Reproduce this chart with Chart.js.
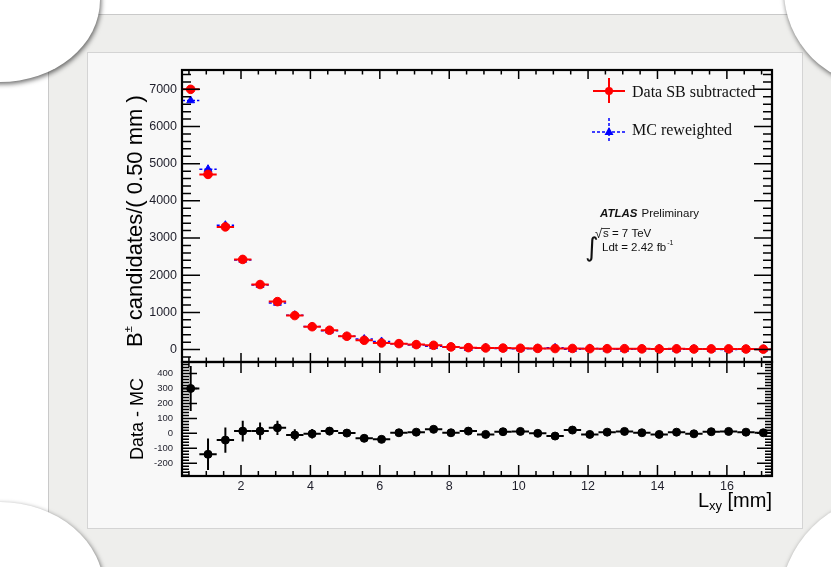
<!DOCTYPE html>
<html>
<head>
<meta charset="utf-8">
<title>B+ candidates vs Lxy</title>
<script src="https://cdn.jsdelivr.net/npm/chart.js@4.4.0/dist/chart.umd.min.js"></script>
<style>
  html, body { margin: 0; padding: 0; background: #fff; overflow: hidden; }
  #page { position: relative; width: 831px; height: 567px; overflow: hidden; background: #fff; }
  .mat { position: absolute; left: 48px; top: 14px; width: 820px; height: 600px; background: #eeeeec; border: 1px solid #c9c9c9; }
  .panel { position: absolute; left: 87px; top: 52px; width: 714px; height: 475px; background: #f8f8f8; border: 1px solid #d4d4d4; }
  .corner { position: absolute; background: #fff; border-radius: 50%; box-shadow: 1px 2px 5px rgba(0, 0, 0, 0.6); }
  canvas { position: absolute; left: 0; top: 0; }
</style>
</head>
<body>
<div id="page">
  <div class="mat"></div>
  <div class="panel"></div>
  <div class="corner" style="left:-100px; top:-82px; width:200px; height:164px;"></div>
  <div class="corner" style="left:-104px; top:502px; width:208px; height:176px;"></div>
  <div class="corner" style="left:784px; top:-106px; width:192px; height:192px;"></div>
  <div class="corner" style="left:780px; top:495px; width:220px; height:220px;"></div>
  <canvas id="topChart" width="831" height="567"></canvas>
  <canvas id="ratioChart" width="831" height="567"></canvas>
</div>
<script>
// Bin centres of L_xy [mm], bins of 0.50 mm
const binCenters = [0.55, 1.05, 1.55, 2.05, 2.55, 3.05, 3.55, 4.05, 4.55, 5.05, 5.55, 6.05,
  6.55, 7.05, 7.55, 8.05, 8.55, 9.05, 9.55, 10.05, 10.55, 11.05, 11.55, 12.05, 12.55, 13.05,
  13.55, 14.05, 14.55, 15.05, 15.55, 16.05, 16.55, 17.05];
const binHalfWidth = 0.25;

// Data SB subtracted
const dataVals = [7000, 4712, 3300, 2425, 1750, 1290, 915, 615, 520, 358, 250, 178, 160, 134,
  115, 72, 52, 44, 40, 36, 32, 28, 30, 24, 24, 24, 20, 17, 20, 15, 18, 18, 15, 12];
const dataErr = [85, 70, 58, 50, 42, 36, 30, 25, 23, 19, 16, 14, 13, 12, 11, 9, 8, 7, 7, 6,
  6, 6, 6, 5, 5, 5, 5, 4, 4, 4, 4, 4, 4, 4];

// MC reweighted
const mcVals = [6700, 4852, 3345, 2410, 1735, 1253, 926, 618, 505, 356, 283, 218, 156, 126,
  88, 68, 37, 51, 29, 23, 32, 46, 8, 31, 16, 11, 16, 24, 12, 18, 7, 5, 7, 8];
const mcErr = [60, 50, 42, 36, 30, 26, 22, 18, 16, 14, 12, 10, 9, 8, 7, 6, 5, 5, 4, 4,
  4, 4, 4, 4, 3, 3, 3, 3, 3, 3, 3, 3, 3, 3];

// Data - MC
const diffVals = [300, -140, -45, 15, 15, 37, -11, -3, 15, 2, -33, -40, 4, 8, 27, 4, 15, -7,
  11, 13, 0, -18, 22, -7, 8, 13, 4, -7, 8, -3, 11, 13, 8, 4];
const diffErr = [150, 105, 85, 70, 58, 48, 38, 32, 27, 22, 19, 16, 15, 14, 13, 12, 11, 11, 10,
  10, 10, 9, 9, 9, 9, 9, 8, 8, 8, 8, 8, 8, 8, 8];

// Axes
const xMin = 0.3, xMax = 17.3;
const xLabels = [2, 4, 6, 8, 10, 12, 14, 16];
const topYMin = -334, topYMax = 7520;
const topYLabels = [0, 1000, 2000, 3000, 4000, 5000, 6000, 7000];
const ratioYMin = -285, ratioYMax = 477;
const ratioYLabels = [-200, -100, 0, 100, 200, 300, 400];

const SANS = "'Liberation Sans', Arial, Helvetica, sans-serif";
const SERIF = "'Liberation Serif', 'Times New Roman', serif";
const labelColor = '#1f1f2b';

function points(ys) {
  return binCenters.map((x, i) => ({ x: x, y: ys[i] }));
}

function stepValues(min, max, step) {
  const out = [];
  for (let k = Math.ceil(min / step); k * step <= max; k++) out.push(k * step);
  return out;
}

function drawErrors(chart, ys, errs, color, width, dash) {
  const { ctx, chartArea: a, scales: { x, y } } = chart;
  ctx.save();
  ctx.beginPath();
  ctx.rect(a.left, a.top, a.width, a.height);
  ctx.clip();
  ctx.strokeStyle = color;
  ctx.lineWidth = width;
  ctx.setLineDash(dash);
  binCenters.forEach((c, i) => {
    const px = x.getPixelForValue(c);
    const py = y.getPixelForValue(ys[i]);
    ctx.beginPath();
    ctx.moveTo(x.getPixelForValue(c - binHalfWidth), py);
    ctx.lineTo(x.getPixelForValue(c + binHalfWidth), py);
    ctx.moveTo(px, y.getPixelForValue(ys[i] - errs[i]));
    ctx.lineTo(px, y.getPixelForValue(ys[i] + errs[i]));
    ctx.stroke();
  });
  ctx.restore();
}

// ROOT style frame with ticks pointing inwards on all four sides
function drawFrame(chart, t) {
  const { ctx, chartArea: a, scales: { x, y } } = chart;
  ctx.save();
  ctx.strokeStyle = '#000';
  ctx.lineWidth = 1.5;
  ctx.beginPath();
  const xt = (v, len) => {
    const px = x.getPixelForValue(v);
    ctx.moveTo(px, a.bottom); ctx.lineTo(px, a.bottom - len);
    ctx.moveTo(px, a.top); ctx.lineTo(px, a.top + len);
  };
  const yt = (v, len) => {
    const py = y.getPixelForValue(v);
    ctx.moveTo(a.left, py); ctx.lineTo(a.left + len, py);
    ctx.moveTo(a.right, py); ctx.lineTo(a.right - len, py);
  };
  stepValues(xMin, xMax, 0.5).forEach(v => xt(v, t.xMinor));
  stepValues(xMin, xMax, 2).forEach(v => xt(v, t.xMajor));
  stepValues(y.min, y.max, t.yMinorStep).forEach(v => yt(v, t.yMinor));
  stepValues(y.min, y.max, t.yMajorStep).forEach(v => yt(v, t.yMajor));
  ctx.stroke();
  ctx.lineWidth = 2.2;
  ctx.strokeRect(a.left, a.top, a.width, a.height);
  ctx.restore();
}

// draws a list of text pieces one after the other, rotated so that it reads upwards
function drawUpText(ctx, x, y, pieces) {
  ctx.save();
  ctx.translate(x, y);
  ctx.rotate(-Math.PI / 2);
  ctx.fillStyle = '#000';
  ctx.textBaseline = 'alphabetic';
  ctx.textAlign = 'left';
  let pos = 0;
  pieces.forEach(p => {
    ctx.font = p.font;
    ctx.fillText(p.text, pos, p.dy || 0);
    pos += ctx.measureText(p.text).width;
  });
  ctx.restore();
}

const topPlugin = {
  id: 'topDecor',
  beforeDatasetsDraw(chart) {
    drawErrors(chart, mcVals, mcErr, '#0000ff', 1.5, [3, 2]);
    drawErrors(chart, dataVals, dataErr, '#ff0000', 2, []);
  },
  afterDatasetsDraw(chart) {
    drawFrame(chart, { xMajor: 9, xMinor: 4.5, yMajor: 18, yMinor: 9, yMajorStep: 1000, yMinorStep: 200 });
  },
  afterDraw(chart) {
    const ctx = chart.ctx;
    drawUpText(ctx, 142, 347, [
      { text: 'B', font: '22px ' + SANS },
      { text: '\u00b1', font: '11px ' + SANS, dy: -10 },
      { text: ' candidates/( 0.50 mm )', font: '22px ' + SANS }
    ]);

    // legend
    ctx.save();
    ctx.strokeStyle = '#ff0000';
    ctx.fillStyle = '#ff0000';
    ctx.lineWidth = 2;
    ctx.beginPath();
    ctx.moveTo(593, 91); ctx.lineTo(625, 91);
    ctx.moveTo(609, 78); ctx.lineTo(609, 103);
    ctx.stroke();
    ctx.beginPath(); ctx.arc(609, 91, 4, 0, Math.PI * 2); ctx.fill();

    ctx.strokeStyle = '#0000ff';
    ctx.fillStyle = '#0000ff';
    ctx.lineWidth = 1.5;
    ctx.setLineDash([3, 2]);
    ctx.beginPath();
    ctx.moveTo(592, 132); ctx.lineTo(627, 132);
    ctx.moveTo(609, 118); ctx.lineTo(609, 143);
    ctx.stroke();
    ctx.setLineDash([]);
    ctx.beginPath();
    ctx.moveTo(609, 127); ctx.lineTo(613.5, 135); ctx.lineTo(604.5, 135); ctx.closePath();
    ctx.fill();

    ctx.fillStyle = '#111';
    ctx.font = '16px ' + SERIF;
    ctx.textBaseline = 'alphabetic';
    ctx.fillText('Data SB subtracted', 632, 96.5);
    ctx.fillText('MC reweighted', 632, 135);

    // ATLAS label
    ctx.font = 'italic bold 11.5px ' + SANS;
    ctx.fillText('ATLAS', 600, 217);
    const w = ctx.measureText('ATLAS').width;
    ctx.font = '11.5px ' + SANS;
    ctx.fillText('Preliminary', 600 + w + 4, 217);
    ctx.fillText('s = 7 TeV', 603, 237);
    ctx.font = '13px ' + SANS;
    ctx.fillText('\u221a', 595, 238);
    ctx.lineWidth = 0.8;
    ctx.strokeStyle = '#111';
    ctx.beginPath(); ctx.moveTo(602, 228.5); ctx.lineTo(610, 228.5); ctx.stroke();
    ctx.font = '26px DejaVu Sans';
    ctx.fillText('\u222b', 585, 256);
    ctx.font = '11.5px ' + SANS;
    ctx.fillText('Ldt = 2.42 fb', 602, 251);
    const lw = ctx.measureText('Ldt = 2.42 fb').width;
    ctx.font = '7px ' + SANS;
    ctx.fillText('-1', 602 + lw + 1, 245);
    ctx.restore();
  }
};

const ratioPlugin = {
  id: 'ratioDecor',
  beforeDatasetsDraw(chart) {
    drawErrors(chart, diffVals, diffErr, '#000', 2, []);
  },
  afterDatasetsDraw(chart) {
    drawFrame(chart, { xMajor: 11, xMinor: 5, yMajor: 15, yMinor: 7, yMajorStep: 100, yMinorStep: 20 });
  },
  afterDraw(chart) {
    const ctx = chart.ctx;
    drawUpText(ctx, 143, 460, [{ text: 'Data - MC', font: '18px ' + SANS }]);

    // x axis title, right aligned to the frame
    ctx.save();
    ctx.fillStyle = '#000';
    ctx.textBaseline = 'alphabetic';
    const right = chart.chartArea.right;
    ctx.font = '20px ' + SANS;
    const wL = ctx.measureText('L').width;
    const wR = ctx.measureText(' [mm]').width;
    ctx.font = '13px ' + SANS;
    const wS = ctx.measureText('xy').width;
    let px = right - wL - wS - wR;
    ctx.font = '20px ' + SANS;
    ctx.fillText('L', px, 506.5);
    ctx.font = '13px ' + SANS;
    ctx.fillText('xy', px + wL, 510);
    ctx.font = '20px ' + SANS;
    ctx.fillText(' [mm]', px + wL + wS, 506.5);
    ctx.restore();
  }
};

function yScale(min, max, labels, fontSize, pad) {
  return {
    type: 'linear',
    min: min,
    max: max,
    afterFit: s => { s.width = 182; },
    afterBuildTicks: s => { s.ticks = labels.map(v => ({ value: v })); },
    grid: { display: false, drawTicks: false },
    border: { display: false },
    ticks: { padding: pad, color: labelColor, font: { family: SANS, size: fontSize }, callback: v => String(v) }
  };
}

new Chart(document.getElementById('topChart'), {
  type: 'scatter',
  data: {
    datasets: [
      {
        label: 'Data SB subtracted',
        data: points(dataVals),
        pointStyle: 'circle',
        pointRadius: 4.3,
        backgroundColor: '#ff0000',
        borderColor: '#ff0000',
        borderWidth: 1
      },
      {
        label: 'MC reweighted',
        data: points(mcVals),
        pointStyle: 'triangle',
        pointRadius: 4.5,
        backgroundColor: '#0000ff',
        borderColor: '#0000ff',
        borderWidth: 1
      }
    ]
  },
  options: {
    responsive: false,
    animation: false,
    devicePixelRatio: 1,
    layout: { padding: { top: 70, right: 59, bottom: 205, left: 0 } },
    plugins: { legend: { display: false }, tooltip: { enabled: false } },
    scales: {
      x: { type: 'linear', min: xMin, max: xMax, display: false },
      y: yScale(topYMin, topYMax, topYLabels, 12.5, 5)
    }
  },
  plugins: [topPlugin]
});

new Chart(document.getElementById('ratioChart'), {
  type: 'scatter',
  data: {
    datasets: [{
      label: 'Data - MC',
      data: points(diffVals),
      pointStyle: 'circle',
      pointRadius: 4,
      backgroundColor: '#000',
      borderColor: '#000',
      borderWidth: 1
    }]
  },
  options: {
    responsive: false,
    animation: false,
    devicePixelRatio: 1,
    layout: { padding: { top: 362, right: 59, bottom: 0, left: 0 } },
    plugins: { legend: { display: false }, tooltip: { enabled: false } },
    scales: {
      x: {
        type: 'linear',
        min: xMin,
        max: xMax,
        afterFit: s => { s.height = 91; },
        afterBuildTicks: s => { s.ticks = xLabels.map(v => ({ value: v })); },
        grid: { display: false, drawTicks: false },
        border: { display: false },
        ticks: { padding: 3, autoSkip: false, maxRotation: 0, color: labelColor, font: { family: SANS, size: 12.5 } }
      },
      y: yScale(ratioYMin, ratioYMax, ratioYLabels, 9.5, 9)
    }
  },
  plugins: [ratioPlugin]
});
</script>
</body>
</html>
